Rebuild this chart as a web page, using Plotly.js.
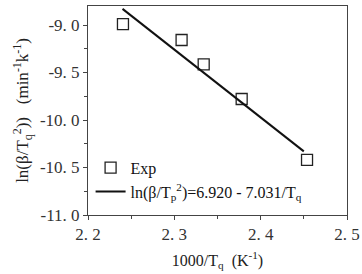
<!DOCTYPE html>
<html>
<head>
<meta charset="utf-8">
<script src="https://cdn.plot.ly/plotly-3.0.1.min.js"></script>
<style>html,body{margin:0;padding:0;background:#fff}#chart{width:362px;height:274px}</style>
</head>
<body>
<div id="chart"></div>
<script>
const expX = [2.2405, 2.3084, 2.3340, 2.3780, 2.4537];
const expY = [-8.99, -9.158, -9.414, -9.779, -10.42];
// Fitted line endpoints
const fitX = [2.240, 2.450];
const fitY = [-8.83, -10.33];
// Tick labels
const xTickVals = [2.2, 2.3, 2.4, 2.5];
const xTickText = ['2. 2', '2. 3', '2. 4', '2. 5'];
const yTickVals = [-9.0, -9.5, -10.0, -10.5, -11.0];
const yTickText = ['-9. 0', '-9. 5', '-10. 0', '-10. 5', '-11. 0'];

const serif = 'Liberation Serif, Times New Roman, serif';
const traces = [
  {x: expX, y: expY, mode: 'markers', type: 'scatter', name: 'Exp',
   marker: {symbol: 'square-open', size: 11, color: '#222', line: {width: 1.3, color: '#222'}}},
  {x: fitX, y: fitY, mode: 'lines', type: 'scatter',
   name: 'ln(β/T<sub>p</sub><sup>2</sup>)=6.920 - 7.031/T<sub>q</sub>',
   line: {color: '#111', width: 2}}
];
const axisCommon = {
  showgrid: false, zeroline: false, showline: true, linecolor: '#444', linewidth: 1,
  mirror: true, ticks: 'outside', ticklen: 4, tickcolor: '#444', tickwidth: 1,
  tickfont: {family: serif, size: 17, color: '#333'}
};
const layout = {
  width: 362, height: 274,
  margin: {l: 87.5, r: 15, t: 6, b: 59},
  paper_bgcolor: '#fff', plot_bgcolor: '#fff',
  showlegend: true,
  legend: {x: 0.01, y: 0.03, xanchor: 'left', yanchor: 'bottom', bgcolor: 'rgba(0,0,0,0)',
           font: {family: serif, size: 16, color: '#111'}},
  xaxis: Object.assign({}, axisCommon, {
    range: [2.2, 2.5], tickvals: xTickVals, ticktext: xTickText,
    minor: {dtick: 0.05, ticks: 'outside', ticklen: 3, tickcolor: '#444'},
    title: {text: '1000/T<sub>q</sub>  (K<sup>-1</sup>)', font: {family: serif, size: 16, color: '#222'}, standoff: 11}
  }),
  yaxis: Object.assign({}, axisCommon, {
    range: [-11, -8.8], tickvals: yTickVals, ticktext: yTickText,
    minor: {dtick: 0.25, ticks: 'outside', ticklen: 3, tickcolor: '#444'},
    title: {text: 'ln(β/T<sub>q</sub><sup>2</sup>))   (min<sup>-1</sup>k<sup>-1</sup>)', font: {family: serif, size: 17, color: '#222'}, standoff: 6}
  })
};
Plotly.newPlot('chart', traces, layout, {staticPlot: true, displayModeBar: false});
</script>
</body>
</html>
